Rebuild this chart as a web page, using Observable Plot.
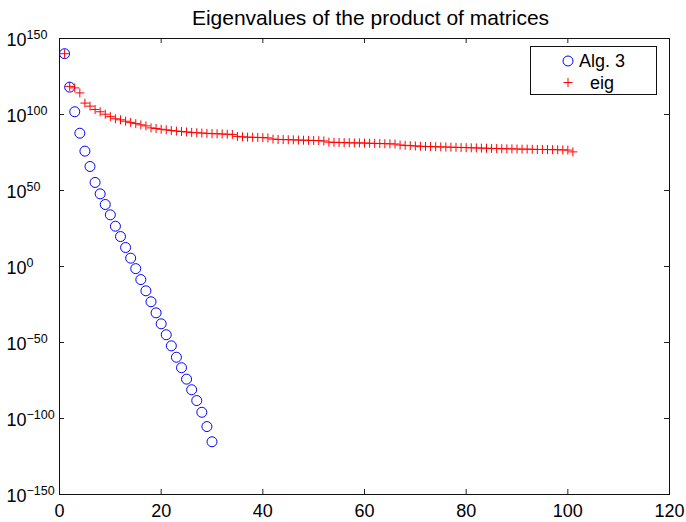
<!DOCTYPE html>
<html><head><meta charset="utf-8">
<script src="https://cdn.jsdelivr.net/npm/d3@7"></script>
<script src="https://cdn.jsdelivr.net/npm/@observablehq/plot@0.6"></script>
<style>html,body{margin:0;padding:0;background:#fff} svg{display:block}</style>
</head><body><div id="chart"></div>
<script>
// log10 of the eigenvalues
const alg3Exp = [
  140, 118, 101.8, 87.7, 75.9, 65.8, 55.3, 47.8, 40.8, 34.0,
  26.5, 19.7, 12.5, 5.5, -1.4, -8.6, -16.0, -23.2, -30.5, -37.7,
  -44.9, -52.2, -59.7, -66.6, -74.1, -81.1, -88.2, -95.9, -105.3, -115.3
];
const eigExp = [
  140, 118.5, 117.5, 114.2, 107.5, 105.5, 103.3, 101.8, 100.2, 98.6,
  97.2, 96.5, 95.6, 94.8, 94.0, 93.2, 92.5, 91.2, 90.8, 90.3,
  89.9, 89.5, 89.1, 88.8, 88.5, 88.2, 88.0, 87.8, 87.6, 87.4,
  87.3, 87.2, 87.0, 86.9, 85.6, 85.3, 85.1, 85.0, 84.9, 84.8,
  84.6, 83.8, 83.6, 83.5, 83.4, 83.3, 83.2, 83.1, 83.0, 82.9,
  82.8, 82.6, 81.8, 81.7, 81.6, 81.5, 81.4, 81.3, 81.3, 81.2,
  81.1, 81.0, 80.9, 80.8, 80.7, 80.6, 79.9, 79.7, 79.5, 79.3,
  79.1, 79.0, 78.9, 78.8, 78.7, 78.6, 78.5, 78.4, 78.3, 78.2,
  78.1, 78.0, 77.9, 77.8, 77.7, 77.6, 77.5, 77.4, 77.4, 77.3,
  77.2, 77.2, 77.1, 77.0, 77.0, 76.9, 76.9, 76.8, 76.7, 76.6,
  75.4
];
const xTicks = [0, 20, 40, 60, 80, 100, 120];
const yTickExp = [-150, -100, -50, 0, 50, 100, 150];
const titleText = "Eigenvalues of the product of matrices";
const seriesNames = ["Alg. 3", "eig"];
const seriesColors = ["#0000ff", "#ff0000"];

const W = 686, H = 522;
const mL = 59, mR = 17, mT = 38, mB = 28;
const font = "'Liberation Sans', Arial, Helvetica, sans-serif";

const cross = {
  draw(ctx, size) {
    const r = Math.sqrt(size / Math.PI);
    ctx.moveTo(-r, 0); ctx.lineTo(r, 0);
    ctx.moveTo(0, -r); ctx.lineTo(0, r);
  }
};

const alg = alg3Exp.map((e, i) => ({x: i + 1, v: Math.pow(10, e)}));
const eig = eigExp.map((e, i) => ({x: i + 1, v: Math.pow(10, e)}));
const innerX = xTicks.slice(1, -1);
const innerY = yTickExp.slice(1, -1);
const fw = W - mL - mR, fh = H - mT - mB;
const tk = 5;

const chart = Plot.plot({
  width: W, height: H,
  marginLeft: mL, marginRight: mR, marginTop: mT, marginBottom: mB,
  style: {fontFamily: font, fontSize: "18px", background: "#fff", color: "#000", overflow: "visible"},
  x: {domain: [0, 120], axis: null},
  y: {type: "log", domain: [1e-150, 1e150], axis: null},
  marks: [
    Plot.tickX(innerX, {x: d => d, insetTop: fh - tk, stroke: "#222", strokeWidth: 1}),
    Plot.tickX(innerX, {x: d => d, insetBottom: fh - tk, stroke: "#222", strokeWidth: 1}),
    Plot.tickY(innerY, {y: d => Math.pow(10, d), insetRight: fw - tk, stroke: "#222", strokeWidth: 1}),
    Plot.tickY(innerY, {y: d => Math.pow(10, d), insetLeft: fw - tk, stroke: "#222", strokeWidth: 1}),
    Plot.frame({stroke: "#111", strokeWidth: 1}),
    Plot.dot(alg, {x: "x", y: "v", r: 5, stroke: seriesColors[0], strokeWidth: 1, fill: "none"}),
    Plot.dot(eig, {x: "x", y: "v", r: 4.5, symbol: cross, stroke: seriesColors[1], strokeWidth: 1}),
    Plot.text(xTicks, {x: d => d, frameAnchor: "bottom", dy: 16.5, text: d => String(d), fontSize: 18, lineAnchor: "middle", fill: "#000"}),
    Plot.text(yTickExp, {y: d => Math.pow(10, d), frameAnchor: "left", dx: -(mL - 6), dy: 1.5, textAnchor: "start", lineAnchor: "middle", fontSize: 18, fill: "#000", text: d => "10^" + d}),
    Plot.text([titleText], {frameAnchor: "top", dx: 6, dy: -(mT - 17.5), fontSize: 21, lineAnchor: "middle", fill: "#000"})
  ]
});

// superscript exponents on the y tick labels
d3.select(chart).selectAll("text").each(function() {
  const t = this.textContent;
  if (t.startsWith("10^")) {
    const exp = t.slice(3).replace("-", "\u2212");
    const sel = d3.select(this);
    sel.text(null);
    sel.append("tspan").text("10");
    sel.append("tspan").attr("dy", "-0.55em").attr("font-size", "12.5px").text(exp);
  }
});

// legend box
const svg = d3.select(chart);
const lg = svg.append("g").attr("font-family", font).attr("font-size", 18);
lg.append("rect").attr("x", 530.5).attr("y", 46.5).attr("width", 126).attr("height", 48)
  .attr("fill", "#fff").attr("stroke", "#111").attr("stroke-width", 1);
lg.append("circle").attr("cx", 568).attr("cy", 61).attr("r", 5)
  .attr("fill", "none").attr("stroke", seriesColors[0]).attr("stroke-width", 1);
lg.append("path").attr("d", "M563.5,82.5H572.5M568,78V87")
  .attr("stroke", seriesColors[1]).attr("stroke-width", 1).attr("fill", "none");
seriesNames.forEach((n, i) => {
  lg.append("text").attr("x", 602).attr("y", 61 + i * 21.5).attr("dy", "0.35em").attr("fill", "#000").text(n);
});

document.getElementById("chart").appendChild(chart);
</script>
</body></html>
